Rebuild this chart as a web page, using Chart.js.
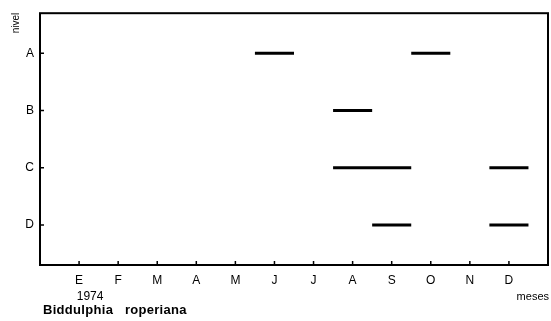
<!DOCTYPE html>
<html lang="es">
<head>
    <meta charset="UTF-8">
    <title>Biddulphia roperiana</title>
    <script src="https://cdn.jsdelivr.net/npm/chart.js@4"></script>
    <style>
        body { margin: 0; background: #fff; }
        .container { width: 551px; height: 321px; position: relative; }
    </style>
</head>
<body>
    <div class="container">
        <canvas id="nivelChart"></canvas>
    </div>
    <script>
        // meses (E..D, 1974) y niveles
        const months = ['E', 'F', 'M', 'A', 'M', 'J', 'J', 'A', 'S', 'O', 'N', 'D'];
        const levels = ['A', 'B', 'C', 'D'];

        // periodos de presencia por nivel: [inicio, fin] en índice de mes
        const nivelA = [[4.5, 5.5], [8.5, 9.5]];
        const nivelB = [[6.5, 7.5]];
        const nivelC = [[6.5, 8.5], [10.5, 11.5]];
        const nivelD = [[7.5, 8.5], [10.5, 11.5]];

        const byLevel = [nivelA, nivelB, nivelC, nivelD];
        const levelY = l => levels.length - levels.indexOf(l);

        const datasets = [];
        byLevel.forEach((spans, i) => {
            spans.forEach(s => {
                datasets.push({
                    data: [{ x: s[0], y: levelY(levels[i]) }, { x: s[1], y: levelY(levels[i]) }],
                    borderColor: '#000',
                    borderWidth: 3,
                    pointRadius: 0,
                    borderCapStyle: 'butt'
                });
            });
        });

        const font = 'Liberation Sans';

        const frame = {
            id: 'frame',
            afterDraw(chart) {
                const ctx = chart.ctx;
                const a = chart.chartArea;
                const xs = chart.scales.x, ys = chart.scales.y;
                ctx.save();
                ctx.strokeStyle = '#000';
                ctx.lineWidth = 2;
                ctx.strokeRect(a.left, a.top, a.right - a.left, a.bottom - a.top);
                ctx.lineWidth = 1.5;
                ctx.beginPath();
                months.forEach((m, i) => {
                    const px = xs.getPixelForValue(i);
                    ctx.moveTo(px, a.bottom);
                    ctx.lineTo(px, a.bottom - 4);
                });
                levels.forEach(l => {
                    const py = ys.getPixelForValue(levelY(l));
                    ctx.moveTo(a.left, py);
                    ctx.lineTo(a.left + 4, py);
                });
                ctx.stroke();

                ctx.fillStyle = '#000';
                ctx.textBaseline = 'middle';
                ctx.font = '12px "' + font + '"';
                ctx.textAlign = 'center';
                ctx.fillText('1974', xs.getPixelForValue(0) + 11, 297);
                ctx.textAlign = 'right';
                ctx.font = '11px "' + font + '"';
                ctx.fillText('meses', 549, 297);
                ctx.textAlign = 'left';
                ctx.font = 'bold 13px "' + font + '"';
                ctx.letterSpacing = '0.3px';
                ctx.fillText('Biddulphia   roperiana', 43, 310);
                ctx.letterSpacing = '0px';
                ctx.font = '10px "' + font + '"';
                ctx.translate(16, 23);
                ctx.rotate(-Math.PI / 2);
                ctx.textAlign = 'center';
                ctx.fillText('nivel', 0, 0);
                ctx.restore();
            }
        };

        new Chart(document.getElementById('nivelChart'), {
            type: 'line',
            data: { datasets },
            options: {
                responsive: true,
                maintainAspectRatio: false,
                animation: false,
                layout: { padding: { left: 0, top: 12, right: 3, bottom: 0 } },
                plugins: { legend: { display: false }, tooltip: { enabled: false } },
                scales: {
                    x: {
                        type: 'linear',
                        min: -1,
                        max: 12,
                        afterBuildTicks: s => { s.ticks = months.map((m, i) => ({ value: i })); },
                        afterFit: s => { s.height = 56; },
                        grid: { display: false, drawTicks: false },
                        border: { display: false },
                        ticks: {
                            callback: v => months[v],
                            autoSkip: false,
                            maxRotation: 0,
                            padding: 8,
                            color: '#000',
                            font: { family: font, size: 12 }
                        }
                    },
                    y: {
                        min: 0.3,
                        max: 4.7,
                        afterBuildTicks: s => { s.ticks = levels.map(l => ({ value: levelY(l) })); },
                        afterFit: s => { s.width = 40; },
                        grid: { display: false, drawTicks: false },
                        border: { display: false },
                        ticks: {
                            callback: v => levels[levels.length - v],
                            padding: 6,
                            color: '#000',
                            font: { family: font, size: 12 }
                        }
                    }
                }
            },
            plugins: [frame]
        });
    </script>
</body>
</html>
